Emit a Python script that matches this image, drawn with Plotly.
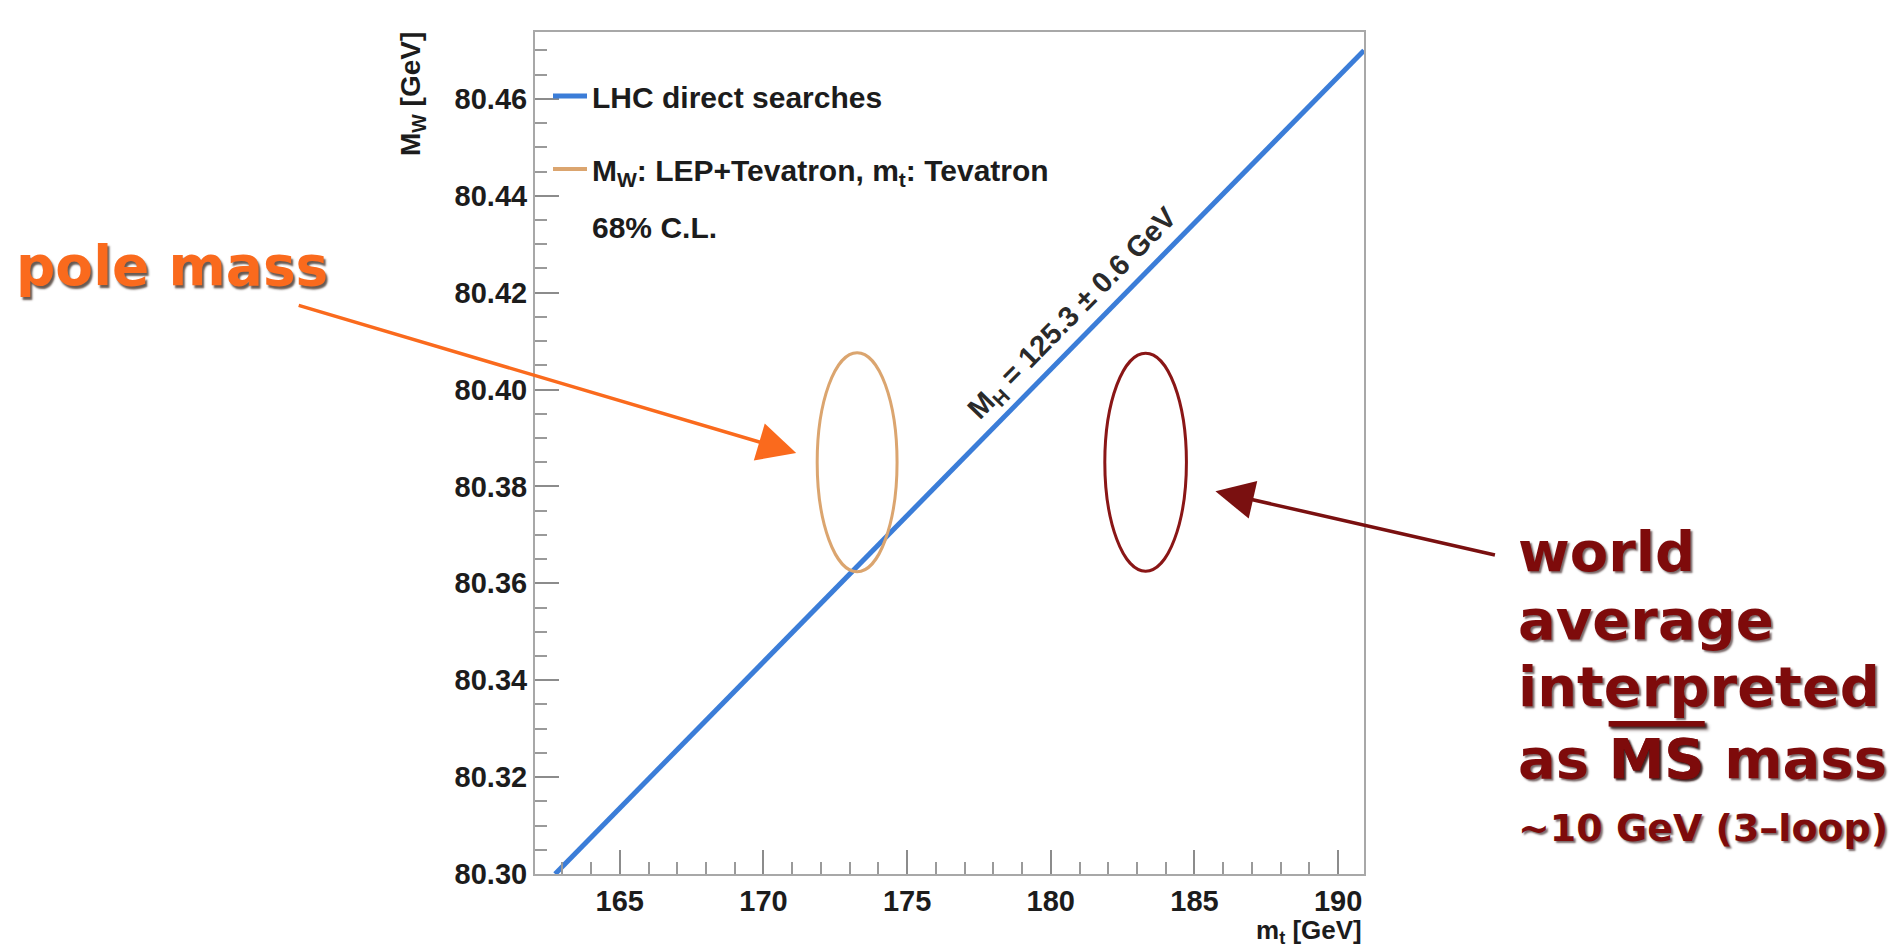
import plotly.graph_objects as go

# M_H = 125.3 +- 0.6 GeV band in the (m_t, M_W) plane
band_mt = [162.75, 190.90]          # GeV
band_mw = [80.300, 80.470]          # GeV

# 68% C.L. contour, M_W: LEP+Tevatron, m_t: Tevatron (read as pole mass)
pole_mt, pole_mw = 173.26, 80.385
pole_dmt, pole_dmw = 1.39, 0.0226

# same measurement interpreted as an MS-bar mass
msbar_mt, msbar_mw = 183.30, 80.385
msbar_dmt, msbar_dmw = 1.42, 0.0225

x_range = [162.05, 190.90]
y_range = [80.300, 80.4738]

legend_names = [
    "LHC direct searches",
    "M<sub>W</sub>: LEP+Tevatron, m<sub>t</sub>: Tevatron",
    "68% C.L.",
]

BLUE = "#3b7dd8"
TAN = "#dba56f"
MAROON = "#8a1616"
ORANGE = "#fa6a1d"
INK = "#1c1c1c"
FRAME = "#a8a8a8"
ROOT_FONT = "Liberation Sans, Arial, Helvetica, sans-serif"
SLIDE_FONT = "DejaVu Sans, Verdana, sans-serif"

W, H = 1900, 950
L, R, T, B = 535, 536, 32, 76


def px_x(px):
    return (px - L) / (W - L - R)


def px_y(py):
    return (H - B - py) / (H - T - B)


fig = go.Figure()

fig.add_trace(go.Scatter(
    x=band_mt, y=band_mw, mode="lines",
    line=dict(color=BLUE, width=5),
    name=legend_names[0], legend="legend", showlegend=True,
))
fig.add_trace(go.Scatter(
    x=[None], y=[None], mode="lines",
    line=dict(color=TAN, width=4),
    name=legend_names[1], legend="legend2", showlegend=True,
))
fig.add_trace(go.Scatter(
    x=[None], y=[None], mode="lines",
    line=dict(color="rgba(0,0,0,0)", width=4),
    name=legend_names[2], legend="legend3", showlegend=True,
))

# confidence ellipses
fig.add_shape(type="circle", xref="x", yref="y",
              x0=pole_mt - pole_dmt, x1=pole_mt + pole_dmt,
              y0=pole_mw - pole_dmw, y1=pole_mw + pole_dmw,
              line=dict(color=TAN, width=3))
fig.add_shape(type="circle", xref="x", yref="y",
              x0=msbar_mt - msbar_dmt, x1=msbar_mt + msbar_dmt,
              y0=msbar_mw - msbar_dmw, y1=msbar_mw + msbar_dmw,
              line=dict(color=MAROON, width=3))

root_font = dict(family=ROOT_FONT, color=INK, weight="bold")

axis_common = dict(
    showgrid=False, zeroline=False,
    showline=True, linecolor=FRAME, linewidth=2, mirror=True,
    ticks="inside", ticklen=24, tickwidth=2, tickcolor="#8c8c8c",
    minor=dict(ticks="inside", ticklen=12, tickwidth=2, tickcolor="#9a9a9a"),
)

fig.update_xaxes(range=x_range, tick0=160, dtick=5, minor_dtick=1,
                 ticklabelstandoff=0,
                 tickfont=dict(size=29, **root_font), **axis_common)
fig.update_yaxes(range=y_range, tick0=80.30, dtick=0.02, minor_dtick=0.005,
                 tickformat=".2f", ticklabelstandoff=0,
                 tickfont=dict(size=29, **root_font), **axis_common)

legend_common = dict(
    x=px_x(548), xanchor="left", yanchor="middle",
    bgcolor="rgba(0,0,0,0)", itemwidth=34,
    font=dict(size=30, **root_font), itemclick=False,
)

annotations = [
    # axis titles
    dict(text="M<sub>W</sub> [GeV]", xref="paper", yref="paper",
         x=px_x(412), y=px_y(30), xanchor="center", yanchor="top",
         textangle=-90, showarrow=False, font=dict(size=28, **root_font)),
    dict(text="m<sub>t</sub> [GeV]", xref="paper", yref="paper",
         x=1.0, y=px_y(950), xanchor="right", yanchor="bottom",
         showarrow=False, font=dict(size=26, **root_font)),
    # band label
    dict(text="M<sub>H</sub> = 125.3 \u00b1 0.6 GeV", xref="x", yref="y",
         x=180.80, y=80.4155, textangle=-45.5, showarrow=False,
         font=dict(size=29, family=ROOT_FONT, color="#2a2a2a", weight="bold")),
    # arrows
    dict(text="", xref="x", yref="y", x=171.14, y=80.3869,
         ax=-499, ay=-148, showarrow=True, arrowhead=2, arrowsize=2.2,
         arrowwidth=3.5, arrowcolor=ORANGE, standoff=0),
    dict(text="", xref="x", yref="y", x=185.73, y=80.379,
         ax=281, ay=64, showarrow=True, arrowhead=2, arrowsize=2.2,
         arrowwidth=3.5, arrowcolor="#7a1010", standoff=0),
    # slide labels
    dict(text="pole mass", xref="paper", yref="paper",
         x=px_x(14), y=px_y(266), xanchor="left", yanchor="middle",
         showarrow=False,
         font=dict(family=SLIDE_FONT, size=55, color=ORANGE, weight="bold",
                   shadow="2px 3px 2px rgba(40,20,10,0.7)")),
]

right_lines = [
    ("world", 551, 56),
    ("average", 619, 56),
    ("interpreted", 686, 56),
    ("as <span style=\"text-decoration:overline\">MS</span> mass", 758, 56),
    ("~10 GeV (3\u2013loop)", 828, 38),
]
for txt, ypx, size in right_lines:
    annotations.append(dict(
        text=txt, xref="paper", yref="paper",
        x=px_x(1516), y=px_y(ypx), xanchor="left", yanchor="middle",
        showarrow=False,
        font=dict(family=SLIDE_FONT, size=size, color="#7e0b0b", weight="bold",
                  shadow="2px 2px 2px rgba(30,0,0,0.6)"),
    ))

fig.update_layout(
    width=W, height=H, autosize=False, showlegend=True,
    margin=dict(l=L, r=R, t=T, b=B, pad=0),
    paper_bgcolor="white", plot_bgcolor="white",
    legend=dict(y=px_y(96), **legend_common),
    legend2=dict(y=px_y(169), **legend_common),
    legend3=dict(y=px_y(226), **legend_common),
    annotations=annotations,
)

fig.write_html("out.html")
